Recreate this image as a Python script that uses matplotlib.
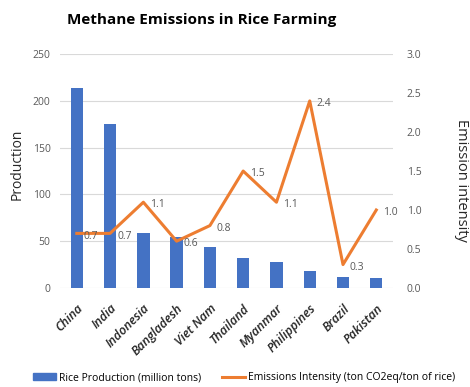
import matplotlib
matplotlib.use("Agg")
import matplotlib.pyplot as plt
from matplotlib.lines import Line2D
from matplotlib.patches import Patch

countries = ["China", "India", "Indonesia", "Bangladesh", "Viet Nam", "Thailand",
             "Myanmar", "Philippines", "Brazil", "Pakistan"]
production = [214, 175, 59, 55, 44, 32, 28, 18, 12, 11]
intensity = [0.7, 0.7, 1.1, 0.6, 0.8, 1.5, 1.1, 2.4, 0.3, 1.0]
left_ticks = [0, 50, 100, 150, 200, 250]
right_ticks = [0.0, 0.5, 1.0, 1.5, 2.0, 2.5, 3.0]

plt.rcParams['font.family'] = ['Open Sans', 'DejaVu Sans']
BLUE = "#4472C4"
ORANGE = "#ED7D31"
GRAY = "#595959"

fig = plt.figure(figsize=(4.7, 3.87), dpi=100)
ax = fig.add_axes([0.128, 0.256, 0.708, 0.604])
x = list(range(len(countries)))
ax.bar(x, production, width=0.37, color=BLUE, zorder=2)
ax.set_ylim(0, 250)
ax.set_yticks(left_ticks)
ax.set_xlim(-0.5, len(countries) - 0.5)
ax.grid(axis='y', color="#D9D9D9", linewidth=0.8, zorder=0)
for s in ax.spines.values():
    s.set_visible(False)
ax.tick_params(axis='both', length=0, colors=GRAY, labelsize=7.5)
ax.set_xticks(x)
ax.set_xticklabels(countries, rotation=45, ha='right', rotation_mode='anchor',
                   fontsize=9, fontweight='semibold', fontstyle='italic', color='#262626')
ax.tick_params(axis='x', pad=10)
ax.tick_params(axis='y', pad=7)
ax.set_ylabel("Production", fontsize=10, color='#262626', va='center')
ax.yaxis.set_label_coords(-0.13, 0.53)

ax2 = ax.twinx()
ax2.plot(x, intensity, color=ORANGE, linewidth=2.2, zorder=3)
ax2.set_ylim(0, 3.0)
ax2.set_yticks(right_ticks)
ax2.set_yticklabels([f"{v:.1f}" for v in right_ticks])
for s in ax2.spines.values():
    s.set_visible(False)
ax2.tick_params(axis='y', length=0, colors=GRAY, labelsize=7.5, pad=10)
ax2.set_ylabel("Emission intensity", fontsize=10.5, color='#262626', rotation=270, va='center')
ax2.yaxis.set_label_coords(1.205, 0.46)
for xi, v in zip(x, intensity):
    ax2.annotate(f"{v:.1f}", (xi, v), xytext=(5, -2), textcoords='offset points',
                 ha='left', va='center', fontsize=7.5, color=GRAY)

fig.text(0.43, 0.948, "Methane Emissions in Rice Farming", ha='center', va='center',
         fontsize=11, fontweight='bold', color='black')

handles = [Patch(color=BLUE), Line2D([0], [0], color=ORANGE, linewidth=2.2)]
labels = ["Rice Production (million tons)", "Emissions Intensity (ton CO2eq/ton of rice)"]
fig.legend(handles, labels, loc='lower center', bbox_to_anchor=(0.52, -0.015), ncol=2,
           frameon=False, fontsize=7.5, handlelength=2.2, handleheight=0.6,
           columnspacing=2.0, handletextpad=0.3)

fig.savefig("out.png", dpi=100)
